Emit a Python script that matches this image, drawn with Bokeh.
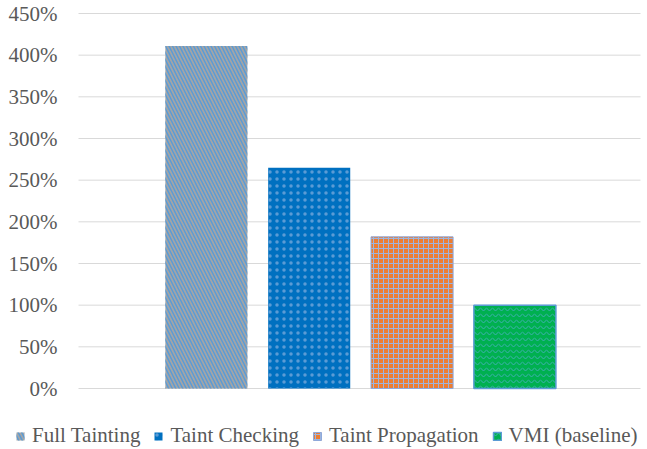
from bokeh.plotting import figure
from bokeh.models import Range1d, Legend, LegendItem
from bokeh.core.properties import value
from bokeh.transform import dodge
from bokeh.embed import file_html
from bokeh.resources import INLINE

# data
group_pos = [0.5]
series = ["Full Tainting", "Taint Checking", "Taint Propagation", "VMI (baseline)"]
values = [411, 265, 182, 100]
y_ticks = [0, 50, 100, 150, 200, 250, 300, 350, 400, 450]
tick_labels = ["0%", "50%", "100%", "150%", "200%", "250%", "300%", "350%", "400%", "450%"]

SERIF = "'Liberation Serif', 'Times New Roman', serif"

styles = [
    dict(fill_color="#A5A5A5", hatch_pattern="left_diagonal_line",
         hatch_color="#5B9BD5", hatch_scale=7, hatch_weight=1.5, line_color=None),
    dict(fill_color="#0070C0", hatch_pattern="dot",
         hatch_color="#5B9BD5", hatch_scale=7, hatch_weight=4, line_color=None),
    dict(fill_color="#ED7D31", hatch_pattern="cross",
         hatch_color="#9DB4DD", hatch_scale=5, hatch_weight=1, line_color="#8EA9DB", line_width=1),
    dict(fill_color="#00B050", hatch_pattern="horizontal_wave",
         hatch_color="#3FAFB0", hatch_scale=6, hatch_weight=1, line_color="#5B9BD5", line_width=1.5),
]

W, H = 647, 449
PL, PR, PT, PB = 78, 7, 13, 61       # plot-area margins in px
fw, fh = W - PL - PR, H - PT - PB     # plot area size
ymax = y_ticks[-1]
upp = ymax / fh                        # data units per pixel

p = figure(width=W, height=H,
           x_range=Range1d(-PL / fw, 1 + PR / fw),
           y_range=Range1d(-PB * upp, ymax + PT * upp),
           output_backend="svg", toolbar_location=None,
           x_axis_location=None, y_axis_location=None,
           min_border=0)
p.outline_line_color = None
p.grid.visible = False
p.background_fill_color = "white"
p.border_fill_color = "white"

# horizontal gridlines over the plot area
p.segment(x0=0, x1=1, y0=y_ticks, y1=y_ticks, line_color="#D9D9D9", line_width=1)

# y tick labels
p.text(x=[0] * len(y_ticks), y=y_ticks, text=tick_labels, x_offset=-21,
       text_align="right", text_baseline="middle",
       text_font=value(SERIF), text_font_size="21px", text_color="#595959")

items = []
spacing = 0.183
for i, (name, val, st) in enumerate(zip(series, values, styles)):
    off = (i - 1.5) * spacing + 0.002
    r = p.vbar(x=dodge("g", off), top="v", width=0.146,
               source=dict(g=group_pos, v=[val]), **st)
    items.append(LegendItem(label=name, renderers=[r]))

legend = Legend(items=items, orientation="horizontal", location=(15, 1),
                label_text_font=SERIF, label_text_font_size="21px",
                label_text_color="#595959", glyph_width=10, glyph_height=10,
                label_standoff=7, spacing=13, padding=0, margin=0,
                border_line_color=None, background_fill_alpha=0)
p.add_layout(legend, "center")

open("out.html", "w").write(file_html(p, INLINE))
